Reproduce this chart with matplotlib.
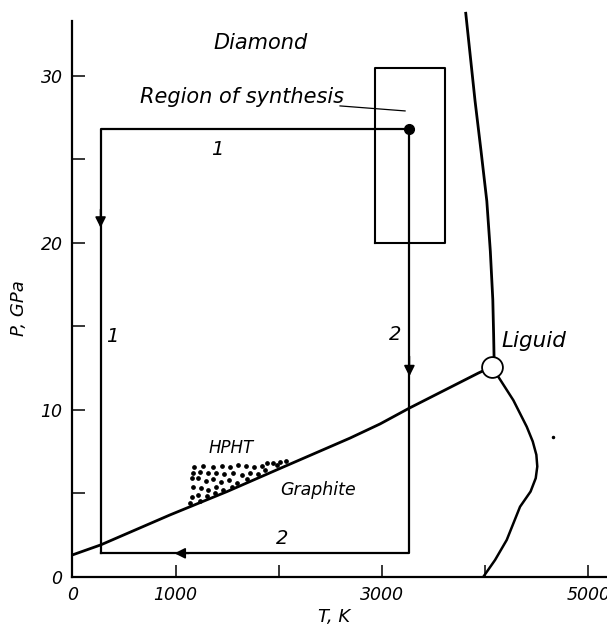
import numpy as np
import matplotlib
matplotlib.use('Agg')
import matplotlib.pyplot as plt

# ---- Data (T in K, P in GPa) ----
# graphite / diamond equilibrium line
gd_T = [0, 274, 947, 1500, 2000, 2690, 2982, 3266, 3935, 4064]
gd_P = [1.3, 1.9, 3.7, 5.1, 6.45, 8.3, 9.15, 10.1, 12.2, 12.57]

# diamond / liquid melting curve
dl_T = [3812, 3902, 3960, 4016, 4050, 4074, 4082, 4086]
dl_P = [33.75, 28.5, 25.5, 22.5, 19.5, 16.6, 14.5, 13.2]

# graphite / liquid melting curve
gl_T = [4064, 4128, 4273, 4403, 4461, 4496, 4505, 4490, 4440, 4338, 4209, 4096, 3983]
gl_P = [12.57, 11.97, 10.57, 8.98, 8.1, 7.3, 6.6, 5.9, 5.1, 4.19, 2.2, 1.0, 0.0]

triple_T, triple_P = 4064, 12.57

# synthesis paths 1 and 2
path1_T = [3266, 274, 274]
path1_P = [26.8, 26.8, 1.4]
path2_T = [3266, 3266, 274]
path2_P = [26.8, 1.4, 1.4]
start_T, start_P = 3266, 26.8

# arrowheads: (tail, tip)
arrows = [((274, 22.0), (274, 20.9)),
          ((3266, 13.2), (3266, 12.0)),
          ((1130, 1.4), (990, 1.4))]

# region of synthesis box
box_T = [2933, 3611, 3611, 2933, 2933]
box_P = [20.0, 20.0, 30.5, 30.5, 20.0]
leader_T = [2594, 3224]
leader_P = [28.2, 27.9]

# HPHT dotted area
hpht_T = [1179, 1270, 1367, 1448, 1528, 1609, 1683, 1761, 1835, 1890, 1941, 2013, 2071,
          1167, 1237, 1318, 1393, 1470, 1554, 1641, 1722, 1802, 1867, 1980,
          1157, 1221, 1296, 1367, 1438, 1522, 1599, 1690,
          1167, 1244, 1318, 1393, 1464, 1544,
          1157, 1221, 1302, 1383,
          1141, 1237]
hpht_P = [6.55, 6.62, 6.58, 6.62, 6.55, 6.66, 6.62, 6.55, 6.62, 6.78, 6.82, 6.88, 6.92,
          6.22, 6.30, 6.19, 6.22, 6.14, 6.19, 6.10, 6.19, 6.14, 6.38, 6.68,
          5.89, 5.89, 5.75, 5.83, 5.69, 5.79, 5.62, 5.85,
          5.35, 5.29, 5.19, 5.39, 5.19, 5.40,
          4.79, 4.89, 4.83, 5.00,
          4.39, 4.55]

x_ticks = [0, 1000, 2000, 3000, 4000, 5000]
x_labels = ['0', '1000', '', '3000', '', '5000']
y_ticks = [0, 5, 10, 15, 20, 25, 30]
y_labels = ['0', '', '10', '', '20', '', '30']

# ---- Plot ----
plt.rcParams['font.family'] = ['DejaVu Sans']
fig = plt.figure(figsize=(6.07, 6.26), dpi=100)
ax = fig.add_axes([0.1191, 0.0788, 0.881, 0.888])

ax.plot(gd_T, gd_P, color='k', lw=2.0, solid_capstyle='butt')
ax.plot(dl_T, dl_P, color='k', lw=2.0, clip_on=False)
ax.plot(gl_T, gl_P, color='k', lw=1.8)
ax.plot(triple_T, triple_P, 'o', ms=15, mfc='white', mec='k', mew=1.3, zorder=5)

ax.plot(path1_T, path1_P, color='k', lw=1.6)
ax.plot(path2_T, path2_P, color='k', lw=1.6)
ax.plot(start_T, start_P, 'o', ms=7, color='k', zorder=5)
for tail, tip in arrows:
    ax.annotate('', xy=tip, xytext=tail,
                arrowprops=dict(arrowstyle='-|>', color='k', lw=1.2,
                                mutation_scale=16, shrinkA=0, shrinkB=0))

ax.plot(box_T, box_P, color='k', lw=1.5)
ax.plot(leader_T, leader_P, color='k', lw=0.9)

ax.plot(hpht_T, hpht_P, 'o', ms=2.4, color='k', lw=0)
ax.plot(4661, 8.34, 'o', ms=1.5, color='k')  # speck from the scan

txt = dict(color='k', fontstyle='italic')
ax.text(1365, 31.6, 'Diamond', fontsize=15, **txt)
ax.text(657, 28.4, 'Region of synthesis', fontsize=15, **txt)
ax.text(1400, 25.6, '1', fontsize=14, ha='center', va='center', **txt)
ax.text(385, 14.4, '1', fontsize=14, ha='center', va='center', **txt)
ax.text(3127, 14.5, '2', fontsize=14, ha='center', va='center', **txt)
ax.text(2030, 2.3, '2', fontsize=14, ha='center', va='center', **txt)
ax.text(4161, 13.76, 'Liguid', fontsize=15.5, **txt)
ax.text(1316, 7.4, 'HPHT', fontsize=12, **txt)
ax.text(2013, 4.89, 'Graphite', fontsize=12.5, **txt)

ax.set_xlim(0, 5181)
ax.set_ylim(0, 33.3)
for s in ['top', 'right']:
    ax.spines[s].set_visible(False)
for s in ['left', 'bottom']:
    ax.spines[s].set_linewidth(1.6)

ax.set_xticks(x_ticks)
ax.set_xticklabels(x_labels)
ax.set_yticks(y_ticks)
ax.set_yticklabels(y_labels)
ax.tick_params(direction='in', length=9, width=1.1, labelsize=12.5, pad=7)
for lab in ax.get_xticklabels() + ax.get_yticklabels():
    lab.set_fontstyle('italic')

ax.set_xlabel('T, K', fontsize=13, fontstyle='italic')
ax.xaxis.set_label_coords(0.49, -0.057)
ax.set_ylabel('P, GPa', fontsize=13, fontstyle='italic')
ax.yaxis.set_label_coords(-0.082, 0.483)

fig.savefig('out.png', dpi=100)
